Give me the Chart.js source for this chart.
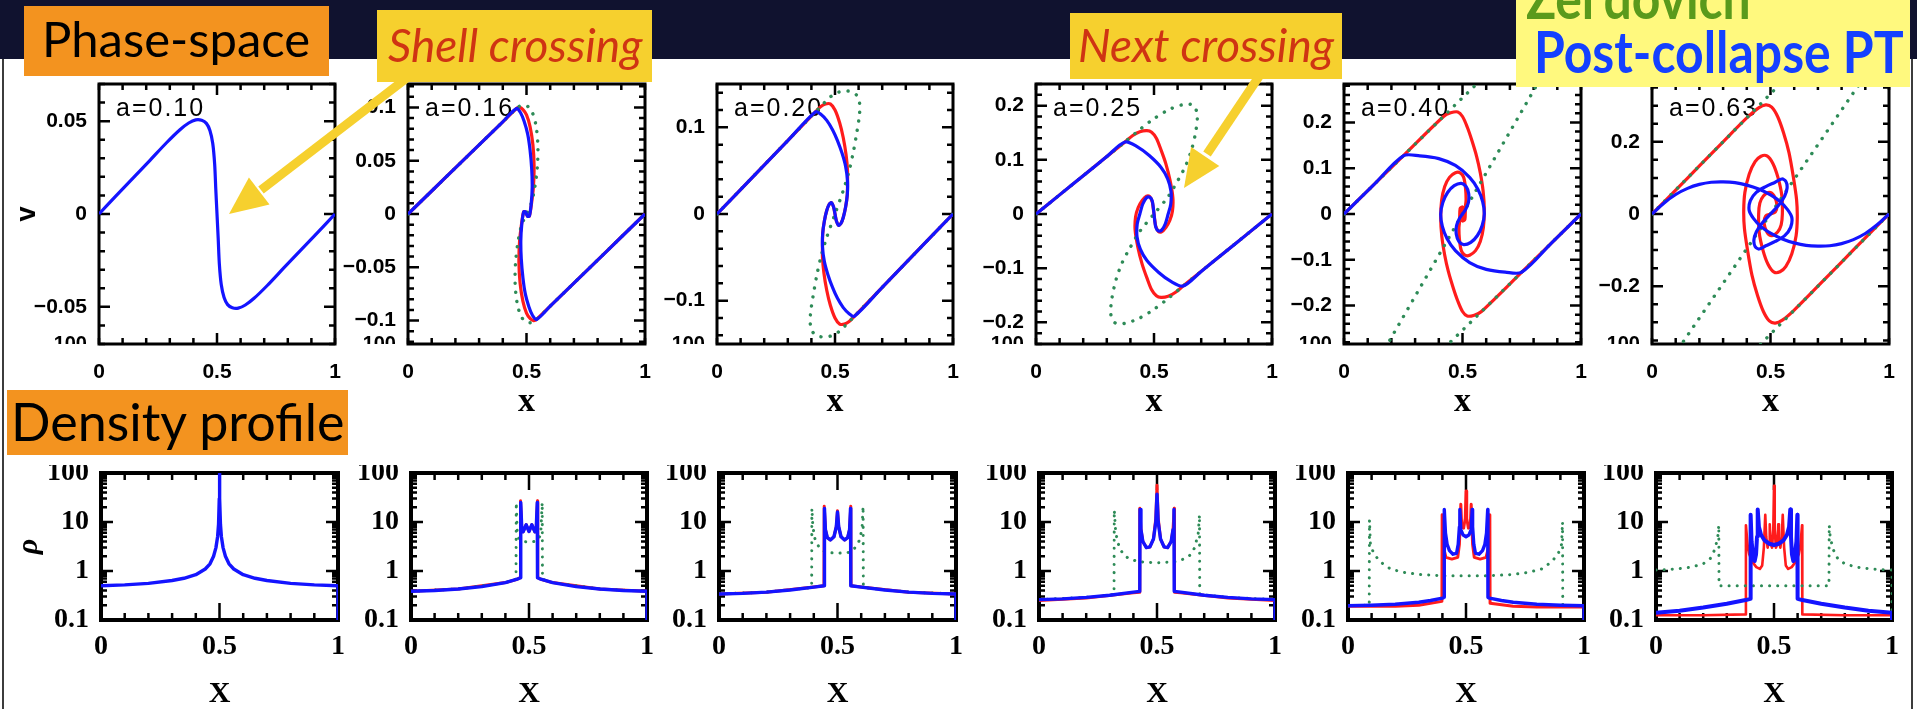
<!DOCTYPE html>
<html>
<head>
<meta charset="utf-8">
<title>Phase-space and density profile</title>
<script src="https://cdn.jsdelivr.net/npm/chart.js@4.4.1/dist/chart.umd.min.js"></script>
<style>
  html, body { margin: 0; padding: 0; background: #fff; }
  #stage { position: relative; width: 1917px; height: 709px; overflow: hidden; background: #fff; }
  #stage canvas { position: absolute; z-index: 1; }
  .banner { position: absolute; left: 0; top: 0; width: 1917px; height: 59px; background: #10122f; z-index: 0; }
  .edge { position: absolute; top: 59px; width: 2px; height: 650px; background: #3c3c3c; z-index: 0; }
  .box { position: absolute; z-index: 10; }
  .txt { position: absolute; white-space: nowrap; line-height: 1; font-family: Lato, "Open Sans", sans-serif; z-index: 11; }
  .peek { position: absolute; overflow: hidden; height: 12px; z-index: 2; }
  .peek span { display: block; font: bold 20px "Liberation Sans", Arial, sans-serif; line-height: 1; color: #000; text-align: right; }
  #arrows { position: absolute; left: 0; top: 0; z-index: 5; pointer-events: none; }
</style>
</head>
<body>
<div id="stage">
  <div class="banner"></div>
  <div class="edge" style="left:2px"></div>
  <div class="edge" style="left:1911px"></div>

  <svg id="arrows" width="1917" height="709">
    <line x1="412" y1="74" x2="261" y2="190" stroke="#f6d02e" stroke-width="9"/>
    <polygon points="229,214 269.5,204.5 248.9,177.5" fill="#f6d02e"/>
    <line x1="1262" y1="72" x2="1207" y2="154" stroke="#f6d02e" stroke-width="9"/>
    <polygon points="1184,188 1219.3,166 1191.1,147" fill="#f6d02e"/>
  </svg>

  <div class="box" style="left:24px;top:6px;width:305px;height:70px;background:#f3931f"></div>
  <div class="txt" style="left:42px;top:14px;font-size:49px;color:#000">Phase-space</div>

  <div class="box" style="left:377px;top:10px;width:275px;height:72px;background:#f6d02e"></div>
  <div class="txt" style="left:388px;top:22px;font-size:46px;font-style:italic;color:#cf3413">Shell crossing</div>

  <div class="box" style="left:1070px;top:13px;width:272px;height:66px;background:#f6d02e"></div>
  <div class="txt" style="left:1078px;top:22px;font-size:46px;font-style:italic;color:#cf3413">Next crossing</div>

  <div class="box" style="left:1516px;top:0px;width:394px;height:87px;background:#fff97e;overflow:hidden">
    <div class="txt" style="left:10px;top:-32px;font-size:58px;font-weight:bold;color:#5a9a1c;transform:scaleX(0.86);transform-origin:0 0">Zel'dovich</div>
    <div class="txt" style="left:18px;top:22px;font-size:58px;font-weight:bold;color:#1440ff;transform:scaleX(0.86);transform-origin:0 0">Post-collapse PT</div>
  </div>

  <div class="box" style="left:7px;top:390px;width:341px;height:65px;background:#f3931f"></div>
  <div class="txt" style="left:11px;top:395px;font-size:52px;color:#000">Density profile</div>
</div>

<script>
// ---------------------------------------------------------------
// Labels, ranges and ticks
// ---------------------------------------------------------------
const aLabels = ['a=0.10', 'a=0.16', 'a=0.20', 'a=0.25', 'a=0.40', 'a=0.63'];
const vLimits = [0.07, 0.122, 0.15, 0.24, 0.284, 0.36];
const vMajorTicks = [
  [-0.05, 0, 0.05],
  [-0.1, -0.05, 0, 0.05, 0.1],
  [-0.1, 0, 0.1],
  [-0.2, -0.1, 0, 0.1, 0.2],
  [-0.2, -0.1, 0, 0.1, 0.2],
  [-0.2, 0, 0.2]
];
const vMinorStep = [0.01, 0.01, 0.02, 0.02, 0.02, 0.05];
const xTickLabels = [0, 0.5, 1];
const rhoTicks = [0.1, 1, 10, 100];

// ---------------------------------------------------------------
// Phase space (x, v): post-collapse PT, exact, Zel'dovich
// ---------------------------------------------------------------
const pcptV010 = [[0,0],[0.07,0.0095],[0.145,0.0194],[0.216,0.0289],[0.287,0.0385],[0.343,0.0454],[0.38,0.049],[0.41,0.0507],[0.435,0.0505],[0.455,0.0488],[0.47,0.045],[0.482,0.038],[0.49,0.027],[0.495,0.013],[0.5,0],[0.505,-0.013],[0.51,-0.027],[0.518,-0.038],[0.53,-0.045],[0.545,-0.0488],[0.565,-0.0505],[0.59,-0.0507],[0.62,-0.049],[0.657,-0.0454],[0.713,-0.0385],[0.784,-0.0289],[0.855,-0.0194],[0.93,-0.0095],[1,0]];

const pcptV016 = [[0,0],[0.1,0.0216],[0.2,0.0432],[0.3,0.0648],[0.4,0.0865],[0.458,0.099],[0.475,0.095],[0.49,0.087],[0.505,0.075],[0.515,0.06],[0.522,0.042],[0.524,0.025],[0.52,0.01],[0.512,-0.002],[0.504,-0.002],[0.5,0],[0.496,0.002],[0.488,0.002],[0.48,-0.01],[0.476,-0.025],[0.478,-0.042],[0.485,-0.06],[0.495,-0.075],[0.51,-0.087],[0.525,-0.095],[0.542,-0.099],[0.6,-0.0865],[0.7,-0.0648],[0.8,-0.0432],[0.9,-0.0216],[1,0]];
const exactV016 = [[0,0],[0.2,0.0432],[0.4,0.0865],[0.458,0.099],[0.47,0.1],[0.485,0.098],[0.5,0.093],[0.515,0.082],[0.527,0.065],[0.532,0.045],[0.529,0.025],[0.52,0.008],[0.512,-0.002],[0.504,-0.002],[0.5,0],[0.496,0.002],[0.488,0.002],[0.48,-0.008],[0.471,-0.025],[0.468,-0.045],[0.473,-0.065],[0.485,-0.082],[0.5,-0.093],[0.515,-0.098],[0.53,-0.1],[0.542,-0.099],[0.6,-0.0865],[0.8,-0.0432],[1,0]];
const zeldV016 = [[0,0],[0.2,0.0432],[0.4,0.0865],[0.458,0.099],[0.48,0.102],[0.505,0.101],[0.525,0.095],[0.54,0.083],[0.548,0.065],[0.546,0.045],[0.535,0.025],[0.52,0.01],[0.5,0],[0.48,-0.01],[0.465,-0.025],[0.454,-0.045],[0.452,-0.065],[0.46,-0.083],[0.475,-0.095],[0.495,-0.101],[0.52,-0.102],[0.542,-0.099],[0.6,-0.0865],[0.8,-0.0432],[1,0]];

const pcptV020 = [[0,0],[0.1,0.0282],[0.2,0.0565],[0.3,0.0847],[0.418,0.118],[0.44,0.115],[0.465,0.108],[0.49,0.097],[0.51,0.085],[0.53,0.07],[0.545,0.055],[0.553,0.038],[0.552,0.022],[0.545,0.008],[0.535,-0.004],[0.525,-0.011],[0.515,-0.013],[0.506,-0.008],[0.5,0],[0.494,0.008],[0.485,0.013],[0.475,0.011],[0.465,0.004],[0.455,-0.008],[0.448,-0.022],[0.447,-0.038],[0.455,-0.055],[0.47,-0.07],[0.49,-0.085],[0.51,-0.097],[0.535,-0.108],[0.56,-0.115],[0.582,-0.118],[0.7,-0.0847],[0.8,-0.0565],[0.9,-0.0282],[1,0]];
const exactV020 = [[0,0],[0.2,0.0565],[0.418,0.118],[0.44,0.124],[0.46,0.127],[0.48,0.127],[0.5,0.12],[0.52,0.105],[0.535,0.088],[0.547,0.068],[0.553,0.05],[0.553,0.036],[0.552,0.022],[0.545,0.008],[0.535,-0.004],[0.525,-0.011],[0.515,-0.013],[0.506,-0.008],[0.5,0],[0.494,0.008],[0.485,0.013],[0.475,0.011],[0.465,0.004],[0.455,-0.008],[0.448,-0.022],[0.447,-0.036],[0.447,-0.05],[0.453,-0.068],[0.465,-0.088],[0.48,-0.105],[0.5,-0.12],[0.52,-0.127],[0.54,-0.127],[0.56,-0.124],[0.582,-0.118],[0.8,-0.0565],[1,0]];
const zeldV020 = [[0,0],[0.2,0.0565],[0.418,0.118],[0.45,0.127],[0.48,0.135],[0.51,0.14],[0.54,0.142],[0.57,0.141],[0.595,0.136],[0.605,0.126],[0.603,0.113],[0.593,0.095],[0.578,0.072],[0.56,0.05],[0.535,0.027],[0.5,0],[0.465,-0.027],[0.44,-0.05],[0.422,-0.072],[0.407,-0.095],[0.397,-0.113],[0.395,-0.126],[0.405,-0.136],[0.43,-0.141],[0.46,-0.142],[0.49,-0.14],[0.52,-0.135],[0.55,-0.127],[0.582,-0.118],[0.8,-0.0565],[1,0]];

const pcptV025 = [[0,0],[0.1,0.0353],[0.2,0.0706],[0.3,0.106],[0.377,0.133],[0.43,0.124],[0.48,0.108],[0.53,0.086],[0.558,0.065],[0.572,0.042],[0.571,0.018],[0.56,0],[0.548,-0.018],[0.532,-0.03],[0.518,-0.031],[0.508,-0.025],[0.503,-0.012],[0.5,0],[0.497,0.012],[0.492,0.025],[0.482,0.031],[0.468,0.03],[0.452,0.018],[0.44,0],[0.429,-0.018],[0.428,-0.042],[0.442,-0.065],[0.47,-0.086],[0.52,-0.108],[0.57,-0.124],[0.623,-0.133],[0.7,-0.106],[0.8,-0.0706],[0.9,-0.0353],[1,0]];
const exactV025 = [[0,0],[0.2,0.0706],[0.377,0.133],[0.41,0.145],[0.44,0.152],[0.47,0.154],[0.49,0.151],[0.51,0.14],[0.53,0.118],[0.55,0.093],[0.568,0.062],[0.58,0.03],[0.578,0.005],[0.567,-0.012],[0.55,-0.025],[0.532,-0.033],[0.518,-0.032],[0.507,-0.022],[0.503,-0.01],[0.5,0],[0.497,0.01],[0.493,0.022],[0.482,0.032],[0.468,0.033],[0.45,0.025],[0.433,0.012],[0.422,-0.005],[0.42,-0.03],[0.432,-0.062],[0.45,-0.093],[0.47,-0.118],[0.49,-0.14],[0.51,-0.151],[0.53,-0.154],[0.56,-0.152],[0.59,-0.145],[0.623,-0.133],[0.8,-0.0706],[1,0]];
const zeldV025 = [[0,0],[0.2,0.0706],[0.377,0.133],[0.44,0.156],[0.5,0.176],[0.565,0.193],[0.625,0.202],[0.665,0.201],[0.683,0.185],[0.678,0.155],[0.66,0.12],[0.635,0.09],[0.605,0.065],[0.56,0.032],[0.5,0],[0.44,-0.032],[0.395,-0.065],[0.365,-0.09],[0.34,-0.12],[0.322,-0.155],[0.317,-0.185],[0.335,-0.201],[0.375,-0.202],[0.435,-0.193],[0.5,-0.176],[0.56,-0.156],[0.623,-0.133],[0.8,-0.0706],[1,0]];

const pcptV040 = [[0,0],[0.125,0.0635],[0.25,0.127],[0.32,0.127],[0.4,0.121],[0.47,0.106],[0.53,0.08],[0.565,0.054],[0.585,0.027],[0.592,0],[0.583,-0.025],[0.563,-0.047],[0.535,-0.062],[0.505,-0.067],[0.485,-0.06],[0.474,-0.045],[0.475,-0.025],[0.487,-0.01],[0.5,0],[0.513,0.01],[0.525,0.025],[0.526,0.045],[0.515,0.06],[0.495,0.067],[0.465,0.062],[0.437,0.047],[0.417,0.025],[0.408,0],[0.415,-0.027],[0.435,-0.054],[0.47,-0.08],[0.53,-0.106],[0.6,-0.121],[0.68,-0.127],[0.75,-0.127],[0.875,-0.0635],[1,0]];
const exactV040 = [[0,0],[0.25,0.127],[0.42,0.213],[0.45,0.221],[0.48,0.223],[0.5,0.213],[0.52,0.19],[0.54,0.16],[0.56,0.125],[0.575,0.09],[0.587,0.05],[0.592,0.01],[0.588,-0.03],[0.575,-0.06],[0.555,-0.08],[0.53,-0.09],[0.51,-0.09],[0.495,-0.08],[0.487,-0.055],[0.485,-0.03],[0.488,-0.015],[0.49,0.012],[0.5,0.015],[0.5,-0.015],[0.51,-0.012],[0.512,0.015],[0.515,0.03],[0.513,0.055],[0.505,0.08],[0.49,0.09],[0.47,0.09],[0.445,0.08],[0.425,0.06],[0.412,0.03],[0.408,-0.01],[0.413,-0.05],[0.425,-0.09],[0.44,-0.125],[0.46,-0.16],[0.48,-0.19],[0.5,-0.213],[0.52,-0.223],[0.55,-0.221],[0.58,-0.213],[0.75,-0.127],[1,0]];
const zeldV040 = [[0,0],[0.25,0.127],[0.5,0.254],[0.56,0.284],[0.62,0.315],[0.75,0.36],[0.86,0.33],[0.85,0.315],[0.816,0.284],[0.5,0],[0.184,-0.284],[0.15,-0.315],[0.14,-0.33],[0.25,-0.36],[0.38,-0.315],[0.44,-0.284],[0.5,-0.254],[0.75,-0.127],[1,0]];

const pcptV063 = [[0,0],[0.05,0.03],[0.1,0.054],[0.15,0.071],[0.2,0.082],[0.25,0.088],[0.3,0.089],[0.35,0.087],[0.4,0.08],[0.45,0.069],[0.5,0.053],[0.54,0.035],[0.572,0.012],[0.59,-0.01],[0.585,-0.037],[0.56,-0.06],[0.52,-0.076],[0.48,-0.088],[0.452,-0.097],[0.435,-0.09],[0.43,-0.072],[0.44,-0.05],[0.465,-0.025],[0.5,0],[0.535,0.025],[0.56,0.05],[0.57,0.072],[0.565,0.09],[0.548,0.097],[0.52,0.088],[0.48,0.076],[0.44,0.06],[0.415,0.037],[0.41,0.01],[0.428,-0.012],[0.46,-0.035],[0.5,-0.053],[0.55,-0.069],[0.6,-0.08],[0.65,-0.087],[0.7,-0.089],[0.75,-0.088],[0.8,-0.082],[0.85,-0.071],[0.9,-0.054],[0.95,-0.03],[1,0]];
const exactV063 = [[0,0],[0.1,0.066],[0.2,0.133],[0.3,0.2],[0.4,0.266],[0.45,0.294],[0.48,0.302],[0.505,0.296],[0.53,0.27],[0.555,0.225],[0.578,0.17],[0.597,0.1],[0.61,0.04],[0.613,-0.01],[0.608,-0.06],[0.59,-0.11],[0.565,-0.145],[0.54,-0.16],[0.515,-0.161],[0.49,-0.14],[0.468,-0.1],[0.452,-0.05],[0.45,0],[0.455,0.03],[0.47,0.05],[0.495,0.06],[0.515,0.05],[0.527,0.025],[0.52,0.005],[0.5,0],[0.48,-0.005],[0.473,-0.025],[0.485,-0.05],[0.505,-0.06],[0.53,-0.05],[0.545,-0.03],[0.55,0],[0.548,0.05],[0.532,0.1],[0.51,0.14],[0.485,0.161],[0.46,0.16],[0.435,0.145],[0.41,0.11],[0.392,0.06],[0.387,0.01],[0.39,-0.04],[0.403,-0.1],[0.422,-0.17],[0.445,-0.225],[0.47,-0.27],[0.495,-0.296],[0.52,-0.302],[0.55,-0.294],[0.6,-0.266],[0.7,-0.2],[0.8,-0.133],[0.9,-0.066],[1,0]];
const zeldV063 = [[0,0],[0.3,0.2],[0.541,0.36],[0.6,0.4],[0.75,0.45],[0.9,0.4],[0.875,0.36],[0.5,0],[0.125,-0.36],[0.1,-0.4],[0.25,-0.45],[0.4,-0.4],[0.459,-0.36],[0.7,-0.2],[1,0]];

// ---------------------------------------------------------------
// Density profiles (x, rho)
// ---------------------------------------------------------------
const pcptRho010 = [[0,0.5],[0.1,0.52],[0.2,0.56],[0.3,0.64],[0.35,0.71],[0.4,0.84],[0.44,1.1],[0.46,1.4],[0.475,2.0],[0.485,3.0],[0.492,5],[0.496,9],[0.499,30],[0.5,150],[0.501,30],[0.504,9],[0.508,5],[0.515,3],[0.525,2],[0.54,1.4],[0.56,1.1],[0.6,0.84],[0.65,0.71],[0.7,0.64],[0.8,0.56],[0.9,0.52],[1,0.5],[1,0.05]];

const pcptRho016 = [[0,0.385],[0.1,0.4],[0.2,0.43],[0.3,0.48],[0.4,0.58],[0.45,0.68],[0.464,0.73],[0.465,25],[0.469,8],[0.475,6.3],[0.488,8.8],[0.5,6.4],[0.512,8.8],[0.525,6.3],[0.531,8],[0.535,25],[0.536,0.73],[0.55,0.68],[0.6,0.58],[0.7,0.48],[0.8,0.43],[0.9,0.4],[1,0.385],[1,0.05]];
const exactRho016 = [[0,0.385],[0.2,0.43],[0.4,0.58],[0.45,0.68],[0.463,0.73],[0.464,27],[0.469,8],[0.475,6.3],[0.488,8.8],[0.5,6.4],[0.512,8.8],[0.525,6.3],[0.531,8],[0.536,27],[0.537,0.73],[0.55,0.68],[0.6,0.58],[0.8,0.43],[1,0.385]];
const zeldRho016 = [[0,0.385],[0.2,0.43],[0.4,0.58],[0.445,0.68],[0.446,25],[0.45,6],[0.458,4.5],[0.475,4],[0.5,3.9],[0.525,4],[0.542,4.5],[0.55,6],[0.556,25],[0.557,0.68],[0.6,0.58],[0.8,0.43],[1,0.385]];

const pcptRho020 = [[0,0.34],[0.1,0.35],[0.2,0.37],[0.3,0.41],[0.4,0.47],[0.444,0.5],[0.445,19],[0.449,7],[0.457,4.8],[0.47,4.3],[0.485,5],[0.495,8],[0.5,16],[0.505,8],[0.515,5],[0.53,4.3],[0.543,4.8],[0.551,7],[0.555,19],[0.556,0.5],[0.6,0.47],[0.7,0.41],[0.8,0.37],[0.9,0.35],[1,0.34],[1,0.05]];
const exactRho020 = [[0,0.34],[0.2,0.37],[0.4,0.47],[0.443,0.5],[0.444,21],[0.449,7],[0.457,4.8],[0.47,4.3],[0.485,5],[0.495,8],[0.5,17],[0.505,8],[0.515,5],[0.53,4.3],[0.543,4.8],[0.551,7],[0.556,21],[0.557,0.5],[0.6,0.47],[0.8,0.37],[1,0.34]];
const zeldRho020 = [[0,0.34],[0.2,0.37],[0.391,0.46],[0.392,19],[0.396,8],[0.405,4.5],[0.42,3.2],[0.435,2.7],[0.45,2.4],[0.5,2.3],[0.55,2.4],[0.565,2.7],[0.58,3.2],[0.595,4.5],[0.604,8],[0.608,21],[0.609,0.46],[0.8,0.37],[1,0.34]];

const pcptRho025 = [[0,0.26],[0.1,0.27],[0.2,0.29],[0.3,0.32],[0.4,0.37],[0.427,0.385],[0.428,18],[0.432,7],[0.44,4],[0.455,3],[0.47,3.1],[0.485,4.5],[0.495,10],[0.5,37],[0.505,10],[0.515,4.5],[0.53,3.1],[0.545,3],[0.56,4],[0.568,7],[0.572,18],[0.573,0.385],[0.6,0.37],[0.7,0.32],[0.8,0.29],[0.9,0.27],[1,0.26],[1,0.05]];
const exactRho025 = [[0,0.25],[0.2,0.28],[0.4,0.36],[0.426,0.37],[0.427,19],[0.432,7],[0.44,4],[0.455,3],[0.47,3.1],[0.485,4.5],[0.495,12],[0.5,56],[0.505,12],[0.515,4.5],[0.53,3.1],[0.545,3],[0.56,4],[0.568,7],[0.573,19],[0.574,0.37],[0.6,0.36],[0.8,0.28],[1,0.25]];
const zeldRho025 = [[0,0.26],[0.2,0.29],[0.318,0.33],[0.319,17.5],[0.325,6],[0.34,3],[0.36,2.1],[0.38,1.8],[0.42,1.55],[0.5,1.47],[0.58,1.55],[0.62,1.8],[0.64,2.1],[0.66,3],[0.675,6],[0.68,14],[0.681,0.33],[0.8,0.29],[1,0.26]];

const pcptRho040 = [[0,0.195],[0.1,0.2],[0.2,0.21],[0.3,0.23],[0.35,0.25],[0.4,0.28],[0.407,0.29],[0.408,18],[0.413,6],[0.42,3.5],[0.43,2.6],[0.445,2.2],[0.46,2.3],[0.467,3.5],[0.472,8],[0.474,18],[0.478,7],[0.487,5.5],[0.5,5],[0.513,5.5],[0.522,7],[0.526,18],[0.528,8],[0.533,3.5],[0.54,2.3],[0.555,2.2],[0.57,2.6],[0.58,3.5],[0.587,6],[0.592,18],[0.593,0.29],[0.6,0.28],[0.65,0.25],[0.7,0.23],[0.8,0.21],[0.9,0.2],[1,0.195],[1,0.05]];
const exactRho040 = [[0,0.19],[0.2,0.19],[0.3,0.2],[0.398,0.24],[0.399,14],[0.405,3],[0.415,1.9],[0.44,1.75],[0.465,1.9],[0.472,3.5],[0.478,23],[0.482,8],[0.49,7.5],[0.497,12],[0.5,43],[0.503,12],[0.51,7.5],[0.518,8],[0.522,23],[0.528,3.5],[0.535,1.9],[0.56,1.75],[0.585,1.9],[0.595,3],[0.601,14],[0.602,0.22],[0.7,0.19],[0.8,0.185],[1,0.185]];
const zeldRho040 = [[0,0.195],[0.09,0.2],[0.091,11],[0.095,3.5],[0.11,2.2],[0.14,1.5],[0.18,1.1],[0.23,0.95],[0.3,0.85],[0.4,0.8],[0.5,0.8],[0.6,0.8],[0.7,0.85],[0.77,0.95],[0.82,1.1],[0.86,1.5],[0.89,2.2],[0.905,3.5],[0.909,10],[0.91,0.2],[1,0.195]];

const pcptRho063 = [[0,0.14],[0.1,0.155],[0.2,0.18],[0.3,0.215],[0.38,0.255],[0.4,0.27],[0.401,14],[0.405,4],[0.412,2],[0.418,1.6],[0.424,2.2],[0.428,5],[0.431,18],[0.436,8],[0.445,5.5],[0.46,4.2],[0.48,3.6],[0.5,3.4],[0.52,3.6],[0.54,4.2],[0.555,5.5],[0.564,8],[0.569,18],[0.572,5],[0.576,2.2],[0.582,1.6],[0.588,2],[0.595,4],[0.599,14],[0.6,0.27],[0.62,0.255],[0.7,0.215],[0.8,0.18],[0.9,0.155],[1,0.14],[1,0.05]];
const exactRho063 = [[0,0.125],[0.2,0.125],[0.38,0.13],[0.381,8.6],[0.388,3.5],[0.395,2.2],[0.41,1.5],[0.425,1.2],[0.44,1.1],[0.45,1.3],[0.457,3],[0.463,14],[0.467,5],[0.473,3],[0.479,4],[0.482,9],[0.486,3.5],[0.492,3],[0.497,7],[0.5,55],[0.503,7],[0.508,3],[0.514,3.5],[0.518,9],[0.521,4],[0.527,3],[0.533,5],[0.537,14],[0.543,3],[0.55,1.3],[0.56,1.1],[0.575,1.2],[0.59,1.5],[0.605,2.2],[0.612,3.5],[0.619,8.6],[0.62,0.13],[0.8,0.125],[1,0.125]];
const zeldRho063 = [[0,1.05],[0.05,1.07],[0.1,1.12],[0.15,1.2],[0.2,1.4],[0.23,1.8],[0.25,2.8],[0.262,5],[0.266,8.6],[0.267,0.5],[0.3,0.5],[0.4,0.5],[0.5,0.5],[0.6,0.5],[0.7,0.5],[0.733,0.5],[0.734,8.6],[0.738,5],[0.75,2.8],[0.77,1.8],[0.8,1.4],[0.85,1.2],[0.9,1.12],[0.95,1.07],[1,1.05],[1,0.05]];

const phasePost  = [pcptV010, pcptV016, pcptV020, pcptV025, pcptV040, pcptV063];
const phaseExact = [null, exactV016, exactV020, exactV025, exactV040, exactV063];
const phaseZel   = [null, zeldV016, zeldV020, zeldV025, zeldV040, zeldV063];
const rhoPost  = [pcptRho010, pcptRho016, pcptRho020, pcptRho025, pcptRho040, pcptRho063];
const rhoExact = [null, exactRho016, exactRho020, exactRho025, exactRho040, exactRho063];
const rhoZel   = [null, zeldRho016, zeldRho020, zeldRho025, zeldRho040, zeldRho063];

// ---------------------------------------------------------------
// Page geometry (pixel layout of the twelve plot frames)
// ---------------------------------------------------------------
const topCols = [[99,335],[408,645],[717,953],[1036,1272],[1344,1581],[1652,1889]];
const botCols = [[101,338],[411,647],[719,956],[1039,1275],[1348,1584],[1656,1892]];
const TOP_Y = [84, 344];
const BOT_Y = [473, 620];
const LEFT_SPACE = 95;
const PAD = 8;

const BLUE = '#1414ff', RED = '#ff1c1c', GREEN = '#2e8b57';
const SANS = '"Liberation Sans", Arial, sans-serif';
const SERIF = '"Liberation Serif", "Times New Roman", serif';

Chart.defaults.color = '#000';
Chart.defaults.font.family = SANS;

const stage = document.getElementById('stage');
function addCanvas(x, y, w, h) {
  const c = document.createElement('canvas');
  c.width = w; c.height = h;
  c.style.left = x + 'px'; c.style.top = y + 'px';
  c.style.width = w + 'px'; c.style.height = h + 'px';
  stage.appendChild(c);
  return c;
}

const fmtNum = v => (v < 0 ? '\u2212' + String(Math.abs(v)) : String(v));

function linTicks(min, max, step, majors, minorLen, majorLen) {
  const out = [];
  const n0 = Math.ceil(min / step - 1e-9), n1 = Math.floor(max / step + 1e-9);
  for (let i = n0; i <= n1; i++) {
    const v = +(i * step).toFixed(6);
    const big = majors.some(m => Math.abs(m - v) < 1e-9);
    out.push({ v, len: big ? majorLen : minorLen });
  }
  return out;
}
function logTicks(minorLen, majorLen) {
  const out = [];
  for (const d of [0.1, 1, 10]) {
    for (let k = 1; k <= 9; k++) out.push({ v: +(d * k).toPrecision(3), len: k === 1 ? majorLen : minorLen });
  }
  out.push({ v: 100, len: majorLen });
  return out;
}

// Box frame with inward ticks on all four sides, plus the epoch label
function framePlugin(cfg) {
  return {
    id: 'frame',
    beforeDatasetsDraw(chart) {
      const { ctx, chartArea: a } = chart;
      const xs = chart.scales.x, ys = chart.scales.y;
      ctx.save();
      ctx.strokeStyle = '#000';
      ctx.lineCap = 'butt';
      ctx.lineWidth = cfg.tickWidth;
      ctx.beginPath();
      for (const t of cfg.xTicks) {
        const px = xs.getPixelForValue(t.v);
        ctx.moveTo(px, a.top); ctx.lineTo(px, a.top + t.len);
        ctx.moveTo(px, a.bottom); ctx.lineTo(px, a.bottom - t.len);
      }
      for (const t of cfg.yTicks) {
        const py = ys.getPixelForValue(t.v);
        ctx.moveTo(a.left, py); ctx.lineTo(a.left + t.len, py);
        ctx.moveTo(a.right, py); ctx.lineTo(a.right - t.len, py);
      }
      ctx.stroke();
      ctx.lineWidth = cfg.frameWidth;
      ctx.strokeRect(a.left, a.top, a.right - a.left, a.bottom - a.top);
      if (cfg.label) {
        ctx.fillStyle = '#000';
        ctx.font = '25px ' + SANS;
        if ('letterSpacing' in ctx) ctx.letterSpacing = '2px';
        ctx.textAlign = 'left';
        ctx.textBaseline = 'alphabetic';
        ctx.fillText(cfg.label, a.left + 17, a.top + 32);
      }
      ctx.restore();
    }
  };
}

function lineSet(points, color, width, tension, dotGap) {
  return {
    data: points.map(p => ({ x: p[0], y: p[1] })),
    showLine: true,
    borderColor: color,
    backgroundColor: color,
    borderWidth: width,
    pointRadius: 0,
    pointHoverRadius: 0,
    tension: tension,
    fill: false,
    borderCapStyle: dotGap ? 'round' : 'butt',
    borderJoinStyle: 'round',
    borderDash: dotGap ? [0.1, dotGap] : []
  };
}

// fixed axis boxes: the plot frame lands exactly where the layout says
function fixY(s) { s.width = LEFT_SPACE; s.paddingTop = 0; s.paddingBottom = 0; }

function baseOptions(xTitle, xTitleFont, xTickFont, xPad, under) {
  return {
    responsive: false,
    animation: false,
    devicePixelRatio: 1,
    events: [],
    layout: { padding: { top: PAD, right: PAD, left: 0, bottom: 0 } },
    plugins: { legend: { display: false }, tooltip: { enabled: false } },
    scales: {
      x: {
        type: 'linear', position: 'bottom', min: 0, max: 1,
        grid: { display: false, drawTicks: false },
        border: { display: false },
        ticks: { color: '#000', font: xTickFont, padding: xPad, maxRotation: 0, minRotation: 0, autoSkip: false, callback: v => fmtNum(v) },
        afterBuildTicks: s => { s.ticks = xTickLabels.map(v => ({ value: v })); },
        afterFit: s => { s.height = under; s.paddingLeft = 0; s.paddingRight = 0; },
        title: { display: true, text: xTitle, color: '#000', font: xTitleFont, padding: { top: 0, bottom: 0 } }
      }
    }
  };
}

// Phase-space panels (top row)
function phaseChart(i) {
  const [l, r] = topCols[i];
  const [t, b] = TOP_Y;
  const under = 75;
  const cv = addCanvas(l - LEFT_SPACE, t - PAD, (r - l) + LEFT_SPACE + PAD, (b - t) + PAD + under);
  const lim = vLimits[i];
  const sets = [lineSet(phasePost[i], BLUE, 3.2, 0.3)];
  if (phaseZel[i]) sets.push(lineSet(phaseZel[i], GREEN, 3.4, i >= 4 ? 0 : 0.3, 9));
  if (phaseExact[i]) sets.push(lineSet(phaseExact[i], RED, 3.2, 0.3));

  const opts = baseOptions('x', { family: SERIF, size: 34, weight: 'bold', lineHeight: 1 },
                           { family: SANS, size: 21, weight: 'bold' }, 16, under);
  opts.scales.y = {
    type: 'linear', position: 'left', min: -lim, max: lim,
    grid: { display: false, drawTicks: false },
    border: { display: false },
    ticks: { color: '#000', font: { family: SANS, size: 21, weight: 'bold' }, padding: 12, autoSkip: false, callback: v => fmtNum(v) },
    afterBuildTicks: s => { s.ticks = vMajorTicks[i].map(v => ({ value: v })); },
    afterFit: fixY,
    title: i === 0
      ? { display: true, text: 'v', color: '#000', font: { family: SANS, size: 27, weight: 'bold', lineHeight: 1 }, padding: { top: 10, bottom: 0 } }
      : { display: false }
  };
  new Chart(cv, {
    type: 'scatter',
    data: { datasets: sets },
    options: opts,
    plugins: [framePlugin({
      tickWidth: 2.5, frameWidth: 3, label: aLabels[i],
      xTicks: linTicks(0, 1, 0.1, [0.5], 6, 11),
      yTicks: linTicks(-lim, lim, vMinorStep[i], vMajorTicks[i], 6, 11)
    })]
  });

  // top of the lower axis label peeking out under each phase-space frame
  const peek = document.createElement('div');
  peek.className = 'peek';
  peek.style.left = (l - 12 - 60) + 'px';
  peek.style.width = '60px';
  peek.style.top = (b - 11) + 'px';
  peek.style.height = '11px';
  peek.innerHTML = '<span>100</span>';
  stage.appendChild(peek);
}

// Density panels (bottom row)
function densityChart(i) {
  const [l, r] = botCols[i];
  const [t, b] = BOT_Y;
  const under = 709 - b;
  const cv = addCanvas(l - LEFT_SPACE, t - PAD, (r - l) + LEFT_SPACE + PAD, (b - t) + PAD + under);
  const sets = [lineSet(rhoPost[i], BLUE, i === 5 ? 4 : 3.4, 0)];
  if (rhoZel[i]) sets.push(lineSet(rhoZel[i], GREEN, 3, 0, 8));
  if (rhoExact[i]) sets.push(lineSet(rhoExact[i], RED, i === 5 ? 2.6 : 3, 0));

  const serifTicks = { family: SERIF, size: 28, weight: 'bold' };
  const opts = baseOptions('X', { family: SERIF, size: 30, weight: 'bold', lineHeight: 1 }, serifTicks, 10, under);
  opts.scales.y = {
    type: 'logarithmic', position: 'left', min: 0.1, max: 100,
    grid: { display: false, drawTicks: false },
    border: { display: false },
    ticks: { color: '#000', font: serifTicks, padding: 12, autoSkip: false, callback: v => String(v) },
    afterBuildTicks: s => { s.ticks = rhoTicks.map(v => ({ value: v })); },
    afterFit: fixY,
    title: i === 0
      ? { display: true, text: '\u03C1', color: '#000', font: { family: SERIF, size: 30, style: 'italic', weight: 'bold', lineHeight: 1 }, padding: { top: 8, bottom: 0 } }
      : { display: false }
  };
  new Chart(cv, {
    type: 'scatter',
    data: { datasets: sets },
    options: opts,
    plugins: [framePlugin({
      tickWidth: 2.5, frameWidth: 4, label: null,
      xTicks: linTicks(0, 1, 0.1, [0.5], 7, 17),
      yTicks: logTicks(6, 12)
    })]
  });
}

for (let i = 0; i < 6; i++) { phaseChart(i); densityChart(i); }
</script>
</body>
</html>
